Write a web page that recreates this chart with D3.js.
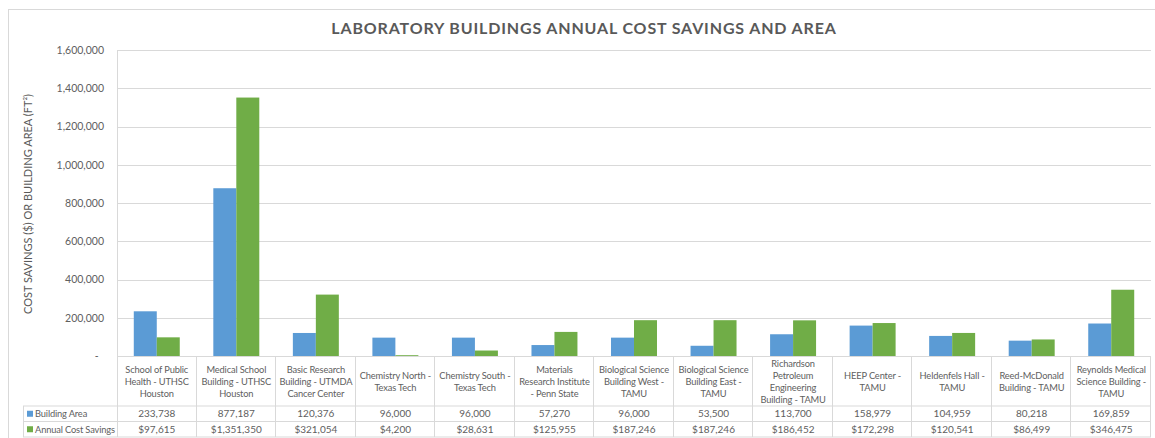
<!DOCTYPE html>
<html>
<head>
<meta charset="utf-8">
<script src="https://cdn.jsdelivr.net/npm/d3@7"></script>
<style>
  html, body { margin: 0; padding: 0; background: #fff; }
  svg { display: block; font-family: Lato, "Open Sans", sans-serif; }
</style>
</head>
<body>
<svg id="chart" width="1155" height="438"></svg>
<script>
// ---- data ----
const categories = [
  "School of Public\nHealth - UTHSC\nHouston",
  "Medical School\nBuilding - UTHSC\nHouston",
  "Basic Research\nBuilding - UTMDA\nCancer Center",
  "Chemistry North -\nTexas Tech",
  "Chemistry South -\nTexas Tech",
  "Materials\nResearch Institute\n- Penn State",
  "Biological Science\nBuilding West -\nTAMU",
  "Biological Science\nBuilding East -\nTAMU",
  "Richardson\nPetroleum\nEngineering\nBuilding - TAMU",
  "HEEP Center -\nTAMU",
  "Heldenfels Hall -\nTAMU",
  "Reed-McDonald\nBuilding - TAMU",
  "Reynolds Medical\nScience Building -\nTAMU"
];
const seriesNames = ["Building Area", "Annual Cost Savings"];
const buildingArea = [233738, 877187, 120376, 96000, 96000, 57270, 96000, 53500, 113700, 158979, 104959, 80218, 169859];
const costSavings = [97615, 1351350, 321054, 4200, 28631, 125955, 187246, 187246, 186452, 172298, 120541, 86499, 346475];
const yTicks = [0, 200000, 400000, 600000, 800000, 1000000, 1200000, 1400000, 1600000];
const titleText = "LABORATORY BUILDINGS ANNUAL COST SAVINGS AND AREA";
const yTitle = "COST SAVINGS ($) OR BUILDING AREA (FT\u00B2)";

// ---- styles ----
const colors = ["#5B9BD5", "#70AD47"];
const textColor = "#595959";
const smallText = "#606060";
const gridColor = "#d9d9d9";
const tableColor = "#d9d9d9";

const svg = d3.select("#chart");

const plot = { left: 117, right: 1151, top: 50, bottom: 356 };
const table = { left: 23, headerBottom: 406, row1Bottom: 421.5, row2Bottom: 437 };

// outer chart border
svg.append("rect")
  .attr("x", 8.5).attr("y", 9.5)
  .attr("width", 1152).attr("height", 440)
  .attr("fill", "none").attr("stroke", gridColor);

// title
svg.append("text")
  .attr("x", 584).attr("y", 34)
  .attr("text-anchor", "middle")
  .attr("font-size", 16).attr("font-weight", "bold")
  .attr("letter-spacing", 0.85)
  .attr("fill", textColor)
  .text(titleText);

// scales
const x = d3.scaleBand().domain(d3.range(categories.length))
  .range([plot.left, plot.right]).paddingInner(0).paddingOuter(0);
const x1 = d3.scaleBand().domain(d3.range(seriesNames.length))
  .range([0, x.bandwidth()]).paddingInner(0).paddingOuter(0.73);
const y = d3.scaleLinear().domain([0, 1600000]).range([plot.bottom, plot.top]);

// gridlines
svg.append("g").selectAll("line").data(yTicks.filter(d => d > 0)).join("line")
  .attr("x1", plot.left).attr("x2", plot.right)
  .attr("y1", d => Math.round(y(d)) + 0.5).attr("y2", d => Math.round(y(d)) + 0.5)
  .attr("stroke", gridColor);

// y axis via d3.axisLeft
const yAxis = d3.axisLeft(y).tickValues(yTicks)
  .tickSize(0).tickPadding(13)
  .tickFormat(d => d === 0 ? "-  " : d3.format(",")(d));
const yg = svg.append("g").attr("transform", `translate(${plot.left},0)`).call(yAxis);
yg.select(".domain").remove();
yg.selectAll("text").attr("fill", smallText).attr("font-size", 10.5)
  .attr("font-family", "Lato, 'Open Sans', sans-serif")
  .style("white-space", "pre");

// y title
svg.append("text")
  .attr("transform", "translate(32,204) rotate(-90)")
  .attr("text-anchor", "middle")
  .attr("font-size", 11)
  .attr("fill", textColor)
  .text(yTitle);

// bars
const seriesData = [buildingArea, costSavings];
const groups = svg.append("g").selectAll("g").data(seriesData).join("g")
  .attr("fill", (d, i) => colors[i]);
groups.each(function (vals, si) {
  d3.select(this).selectAll("rect").data(vals).join("rect")
    .attr("x", (v, ci) => x(ci) + x1(si))
    .attr("width", x1.bandwidth())
    .attr("y", v => y(v))
    .attr("height", v => y(0) - y(v));
});

// left plot border
svg.append("line")
  .attr("x1", plot.left + 0.5).attr("x2", plot.left + 0.5)
  .attr("y1", plot.top).attr("y2", table.row2Bottom)
  .attr("stroke", tableColor);

// data table
const tg = svg.append("g");
tg.append("line").attr("x1", plot.left).attr("x2", plot.right)
  .attr("y1", plot.bottom + 0.5).attr("y2", plot.bottom + 0.5).attr("stroke", tableColor);
[table.headerBottom, table.row1Bottom, table.row2Bottom].forEach(yy => {
  tg.append("line").attr("x1", table.left).attr("x2", plot.right)
    .attr("y1", yy).attr("y2", yy).attr("stroke", tableColor);
});
tg.append("line").attr("x1", table.left + 0.5).attr("x2", table.left + 0.5)
  .attr("y1", table.headerBottom).attr("y2", table.row2Bottom).attr("stroke", tableColor);
tg.selectAll("line.v").data(d3.range(1, categories.length + 1)).join("line")
  .attr("class", "v")
  .attr("x1", i => Math.round(x(0) + i * x.step()) - 0.5)
  .attr("x2", i => Math.round(x(0) + i * x.step()) - 0.5)
  .attr("y1", plot.bottom).attr("y2", table.row2Bottom)
  .attr("stroke", tableColor);

// category labels
const lineH = 12;
const headerMid = (plot.bottom + table.headerBottom) / 2;
categories.forEach((c, i) => {
  const lines = c.split("\n");
  const t = tg.append("text")
    .attr("text-anchor", "middle")
    .attr("font-size", 9.3)
    .attr("letter-spacing", -0.15)
    .attr("fill", smallText);
  lines.forEach((ln, k) => {
    t.append("tspan")
      .attr("x", x(i) + x.bandwidth() / 2)
      .attr("y", headerMid + (k - (lines.length - 1) / 2) * lineH + 3.5)
      .text(ln);
  });
});

// value rows
const rowMids = [(table.headerBottom + table.row1Bottom) / 2, (table.row1Bottom + table.row2Bottom) / 2];
const fmts = [d3.format(","), v => "$" + d3.format(",")(v)];
seriesData.forEach((vals, si) => {
  tg.selectAll(null).data(vals).join("text")
    .attr("x", (v, ci) => x(ci) + x.bandwidth() / 2)
    .attr("y", rowMids[si] + 3.5)
    .attr("text-anchor", "middle")
    .attr("font-size", 10)
    .attr("fill", smallText)
    .text(v => fmts[si](v));
  tg.append("rect")
    .attr("x", 27).attr("y", rowMids[si] - 3)
    .attr("width", 6).attr("height", 6)
    .attr("fill", colors[si]);
  tg.append("text")
    .attr("x", 35).attr("y", rowMids[si] + 3.5)
    .attr("font-size", 9.3)
    .attr("letter-spacing", -0.15)
    .attr("fill", smallText)
    .text(seriesNames[si]);
});
</script>
</body>
</html>
